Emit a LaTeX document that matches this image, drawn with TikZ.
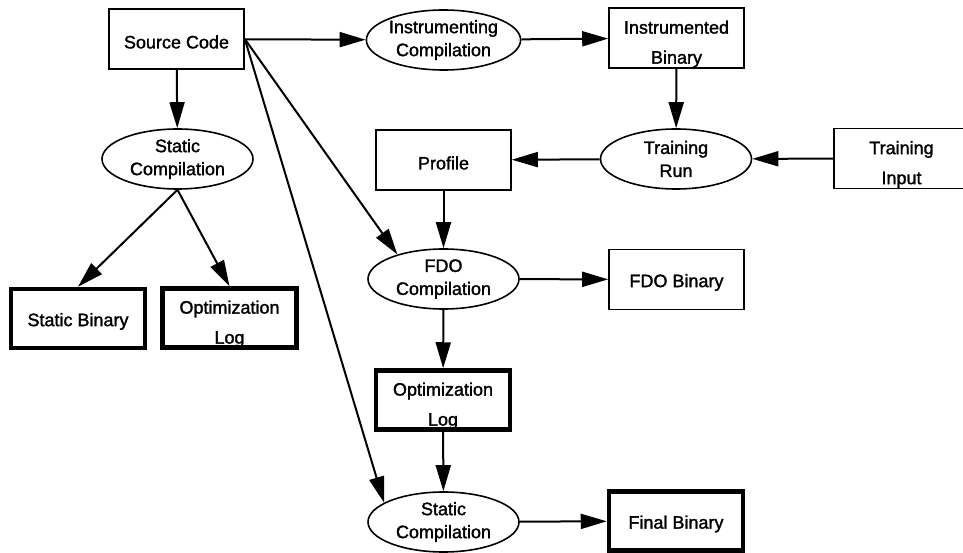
\documentclass[tikz,border=0pt]{standalone}
\usepackage{fontspec}
\setmainfont{Liberation Sans}[FakeBold=1.6]
\usetikzlibrary{shapes.geometric,arrows.meta}
\newcommand{\toppad}{\rule{0pt}{25pt}}
\begin{document}
\begin{tikzpicture}[x=1pt,y=-1pt,
  filebox/.style={draw,rectangle,line width=1.6pt,minimum width=135pt,minimum height=60pt,
    inner sep=0pt,align=center,font=\fontsize{18}{30}\selectfont,
    execute at begin node={\rule{0pt}{19pt}}},
  outbox/.style={filebox,line width=4.5pt,minimum width=134pt,minimum height=59pt},
  pass/.style={draw,ellipse,line width=1.6pt,minimum width=151pt,minimum height=60pt,
    inner sep=0pt,align=center,font=\fontsize{18}{23}\selectfont},
  flow/.style={-{Triangle[length=26pt,width=15pt]},line width=2pt}]
\useasboundingbox (0,0) rectangle (963,553);
\node[filebox] (src) at (176.5,39) {Source Code};
\node[pass] (instc) at (443.5,40) {Instrumenting\\Compilation};
\node[filebox] (instb) at (676.5,38) {\toppad Instrumented\\Binary};
\node[pass] (statcA) at (177.5,159) {Static\\Compilation};
\node[filebox] (prof) at (443.5,160) {Profile};
\node[pass] (train) at (676,159) {Training\\Run};
\node[filebox] (input) at (901.5,158.5) {\toppad Training\\Input};
\node[outbox] (statb) at (78,318.5) {Static Binary};
\node[outbox] (logA) at (229.5,318) {\toppad Optimization\\Log};
\node[pass] (fdoc) at (443.5,279) {FDO\\Compilation};
\node[filebox] (fdob) at (676.5,279.5) {FDO Binary};
\node[outbox] (logB) at (443,400) {\toppad Optimization\\Log};
\node[pass] (statcB) at (443.5,522) {Static\\Compilation};
\node[outbox] (final) at (676,521) {Final Binary};
\draw[flow] (src) -- (instc);
\draw[flow] (instc) -- (instb);
\draw[flow] (src) -- (statcA);
\draw[flow] (instb) -- (train);
\draw[flow] (input) -- (train);
\draw[flow] (train) -- (prof);
\draw[flow] (prof) -- (fdoc);
\draw[flow] (src.east) -- (fdoc.152);
\draw[flow] (src.east) -- (statcB.162);
\draw[flow] (statcA.south) -- (statb.north);
\draw[flow] (statcA.south) -- (logA.north);
\draw[flow] (fdoc) -- (fdob);
\draw[flow] (fdoc) -- (logB);
\draw[flow] (logB) -- (statcB);
\draw[flow] (statcB) -- (final);
\end{tikzpicture}
\end{document}
